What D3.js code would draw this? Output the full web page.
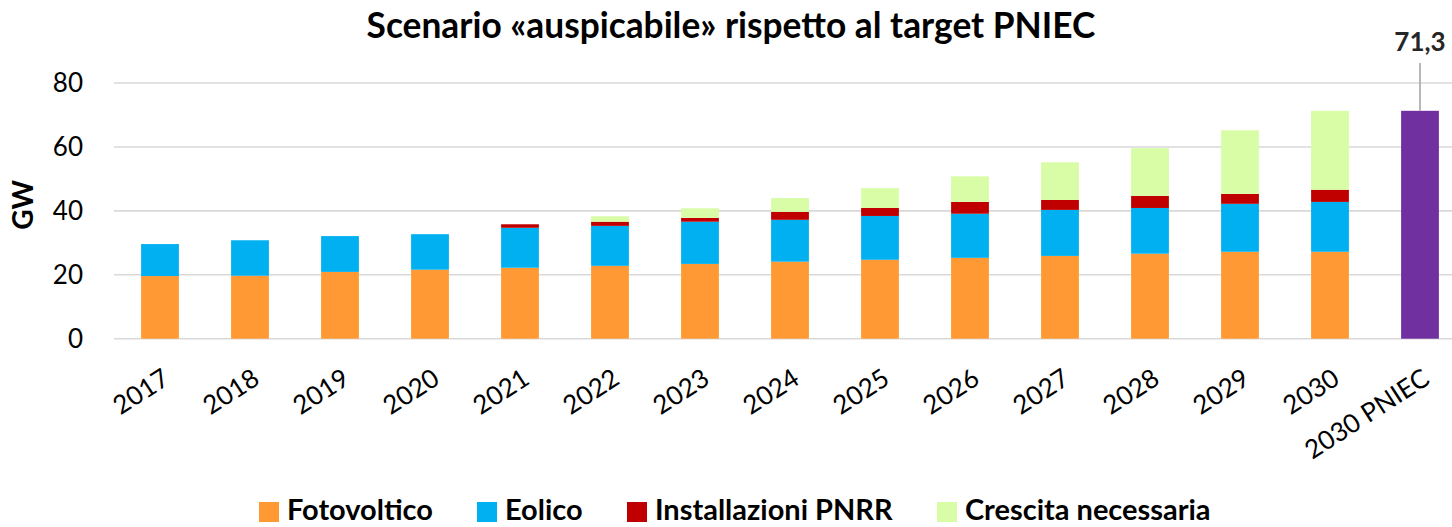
<!DOCTYPE html>
<html>
<head>
<meta charset="utf-8">
<script src="https://cdn.jsdelivr.net/npm/d3@7"></script>
<style>
  body { margin: 0; background: #fff; }
  svg { display: block; font-family: Lato, "Open Sans", sans-serif; }
</style>
</head>
<body>
<div id="chart"></div>
<script>
// data (GW)
var years = ["2017", "2018", "2019", "2020", "2021", "2022", "2023", "2024", "2025", "2026", "2027", "2028", "2029", "2030", "2030 PNIEC"];
var fotovoltaico = [19.6, 19.7, 20.9, 21.6, 22.2, 22.8, 23.4, 24.1, 24.7, 25.3, 25.9, 26.6, 27.2, 27.2, 0];
var eolico = [10.0, 11.1, 11.2, 11.1, 12.5, 12.5, 13.2, 13.1, 13.7, 13.8, 14.4, 14.3, 15.0, 15.6, 0];
var pnrr = [0, 0, 0, 0, 1.1, 1.3, 1.2, 2.5, 2.5, 3.7, 3.1, 3.8, 3.1, 3.8, 0];
var crescita = [0, 0, 0, 0, 0, 1.7, 3.0, 4.3, 6.2, 8.0, 11.8, 14.9, 19.9, 24.7, 0];
var pniec = [0, 0, 0, 0, 0, 0, 0, 0, 0, 0, 0, 0, 0, 0, 71.3];
var yTicks = [0, 20, 40, 60, 80];

var seriesNames = ["Fotovoltico", "Eolico", "Installazioni PNRR", "Crescita necessaria", "PNIEC"];
var colors = ["#FF9933", "#00B0F0", "#C00000", "#D8FDA6", "#7030A0"];

var W = 1452, H = 527;

const svg = d3.select("#chart").append("svg")
    .attr("width", W)
    .attr("height", H);

// table for the stack
var table = years.map((y, i) => ({
    year: y,
    "Fotovoltico": fotovoltaico[i],
    "Eolico": eolico[i],
    "Installazioni PNRR": pnrr[i],
    "Crescita necessaria": crescita[i],
    "PNIEC": pniec[i]
}));

var x = d3.scaleBand()
    .domain(years)
    .range([115, 1465])
    .paddingInner(0.58)
    .paddingOuter(0.29);

var y = d3.scaleLinear()
    .domain([0, 80])
    .range([338.7, 83]);

// gridlines
svg.append("g")
    .selectAll("line")
    .data(yTicks)
    .enter().append("line")
    .attr("x1", 114)
    .attr("x2", W)
    .attr("y1", d => y(d))
    .attr("y2", d => y(d))
    .attr("stroke", "#D9D9D9")
    .attr("stroke-width", 1.6);

// y tick labels
svg.append("g")
    .selectAll("text")
    .data(yTicks)
    .enter().append("text")
    .attr("x", 83)
    .attr("y", d => y(d))
    .attr("dy", "0.36em")
    .attr("text-anchor", "end")
    .style("font-size", "26px")
    .style("fill", "#000")
    .text(d => d);

// axis title
svg.append("text")
    .attr("transform", "translate(33,205) rotate(-90)")
    .attr("text-anchor", "middle")
    .style("font-size", "28px")
    .style("font-weight", "bold")
    .text("GW");

// stacked bars
var stack = d3.stack().keys(seriesNames);
var layers = stack(table);

svg.append("g")
    .selectAll("g")
    .data(layers)
    .enter().append("g")
    .attr("fill", (d, i) => colors[i])
    .selectAll("rect")
    .data(d => d.filter(s => s[1] - s[0] > 0))
    .enter().append("rect")
    .attr("x", d => x(d.data.year))
    .attr("width", x.bandwidth())
    .attr("y", d => y(d[1]))
    .attr("height", d => y(d[0]) - y(d[1]));

// label for the PNIEC target
var target = table[table.length - 1];
var tx = x(target.year) + x.bandwidth() / 2;
svg.append("line")
    .attr("x1", tx)
    .attr("x2", tx)
    .attr("y1", 63)
    .attr("y2", y(target.PNIEC))
    .attr("stroke", "#A6A6A6")
    .attr("stroke-width", 1.6);

svg.append("text")
    .attr("x", tx)
    .attr("y", 51)
    .attr("text-anchor", "middle")
    .style("font-size", "26px")
    .style("font-weight", "bold")
    .style("fill", "#262626")
    .text(String(target.PNIEC).replace(".", ","));

// x labels, slanted
svg.append("g")
    .selectAll("text")
    .data(years)
    .enter().append("text")
    .attr("transform", d => `translate(${x(d) + x.bandwidth() / 2 + 1},367) rotate(-33)`)
    .attr("text-anchor", "end")
    .attr("dy", "0.72em")
    .style("font-size", "26px")
    .style("fill", "#000")
    .text(d => d);

// title, fitted to the width it has in the reference
var title = svg.append("text")
    .attr("x", 731)
    .attr("y", 38)
    .attr("text-anchor", "middle")
    .style("font-size", "30px")
    .style("font-weight", "bold")
    .text("Scenario «auspicabile» rispetto al target PNIEC");
var tw = title.node().getComputedTextLength();
title.style("font-size", (30 * 729 / tw) + "px");

// legend
var legendX = [259, 477, 627, 937];
var legend = svg.append("g")
    .selectAll("g")
    .data(seriesNames.slice(0, 4))
    .enter().append("g")
    .attr("transform", (d, i) => `translate(${legendX[i]},502)`);

legend.append("rect")
    .attr("width", 20)
    .attr("height", 20)
    .attr("fill", (d, i) => colors[i]);

var legendText = legend.append("text")
    .attr("x", 28)
    .attr("y", 18)
    .style("font-size", "26px")
    .style("font-weight", "bold")
    .text(d => d);

// scale legend font so "Fotovoltico" is as wide as in the reference
var lw = legendText.node().getComputedTextLength();
legendText.style("font-size", (26 * 146 / lw) + "px");
</script>
</body>
</html>
